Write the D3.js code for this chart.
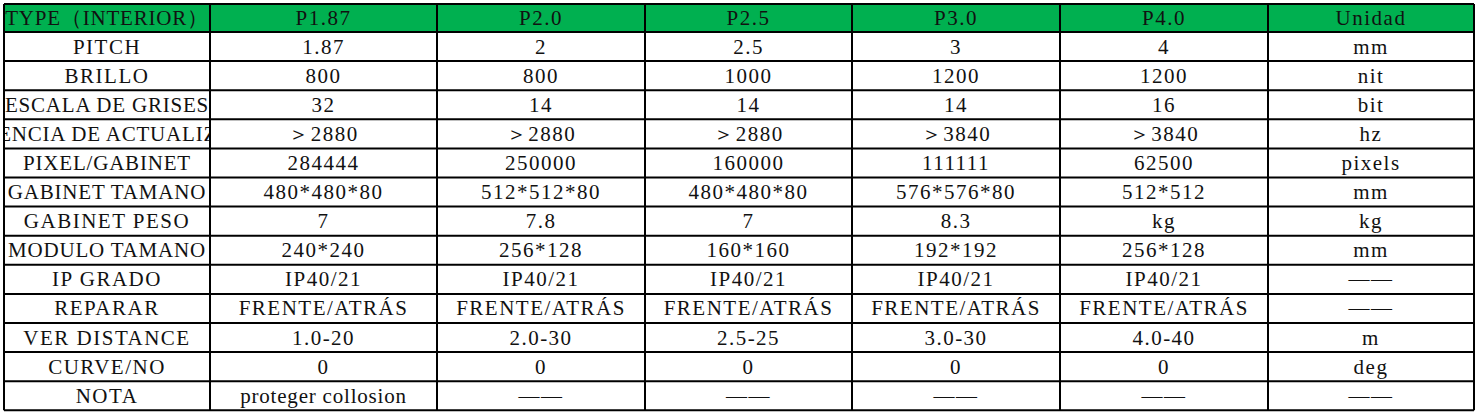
<!DOCTYPE html>
<html><head><meta charset="utf-8">
<script src="https://cdn.jsdelivr.net/npm/d3@7"></script>
<style>body{margin:0;background:#fff}</style>
</head><body>
<svg id="chart" width="1478" height="414"></svg>
<script>
const header = ["TYPE（INTERIOR）", "P1.87", "P2.0", "P2.5", "P3.0", "P4.0", "Unidad"];
const labels = ["PITCH", "BRILLO", "ESCALA DE GRISES", "FRECUENCIA DE ACTUALIZACIÓN", "PIXEL/GABINET",
  "GABINET TAMANO", "GABINET PESO", "MODULO TAMANO", "IP GRADO", "REPARAR", "VER DISTANCE", "CURVE/NO", "NOTA"];
const p187 = ["1.87", "800", "32", "＞2880", "284444", "480*480*80", "7", "240*240", "IP40/21", "FRENTE/ATRÁS", "1.0-20", "0", "proteger collosion"];
const p20 = ["2", "800", "14", "＞2880", "250000", "512*512*80", "7.8", "256*128", "IP40/21", "FRENTE/ATRÁS", "2.0-30", "0", "——"];
const p25 = ["2.5", "1000", "14", "＞2880", "160000", "480*480*80", "7", "160*160", "IP40/21", "FRENTE/ATRÁS", "2.5-25", "0", "——"];
const p30 = ["3", "1200", "14", "＞3840", "111111", "576*576*80", "8.3", "192*192", "IP40/21", "FRENTE/ATRÁS", "3.0-30", "0", "——"];
const p40 = ["4", "1200", "16", "＞3840", "62500", "512*512", "kg", "256*128", "IP40/21", "FRENTE/ATRÁS", "4.0-40", "0", "——"];
const units = ["mm", "nit", "bit", "hz", "pixels", "mm", "kg", "mm", "——", "——", "m", "deg", "——"];

const colWidths = [206, 227, 208, 207, 208, 208, 206];
const columns = [labels, p187, p20, p25, p30, p40, units];
const rows = [header].concat(labels.map((_, i) => columns.map(c => c[i])));

const svg = d3.select("#chart");
const leftX = 4, topY = 4, rowH = 29.1, headH = 28;
const edges = [0];
colWidths.forEach(w => edges.push(edges[edges.length - 1] + w));
const x = d3.scaleLinear().domain([0, edges[edges.length - 1]]).range([leftX, leftX + edges[edges.length - 1]]);
const y = d3.scaleLinear().domain([0, 1]).range([topY + headH, topY + headH + rowH]);
const rowTop = i => i == 0 ? topY : y(i - 1);
const rowBot = i => y(i);

svg.append("rect").attr("x", x(0)).attr("y", topY).attr("width", x(edges[7]) - x(0)).attr("height", headH).attr("fill", "#00b050");

const defs = svg.append("defs");
rows.forEach((row, r) => {
  row.forEach((txt, c) => {
    const id = "clip-" + r + "-" + c;
    defs.append("clipPath").attr("id", id).append("rect")
      .attr("x", x(edges[c]) + 1).attr("y", rowTop(r)).attr("width", x(edges[c + 1]) - x(edges[c]) - 2).attr("height", rowBot(r) - rowTop(r));
    svg.append("text")
      .attr("clip-path", "url(#" + id + ")")
      .attr("x", (x(edges[c]) + x(edges[c + 1])) / 2)
      .attr("y", (rowTop(r) + rowBot(r)) / 2 + 7)
      .attr("text-anchor", "middle")
      .attr("font-family", "'Liberation Serif', serif")
      .attr("font-size", 21)
      .attr("letter-spacing", txt.length > 12 ? 0.8 : 1.5)
      .attr("fill", "#111")
      .text(txt);
  });
});

for (let r = 0; r <= rows.length; r++) {
  const yy = r == 0 ? topY : rowBot(r - 1);
  svg.append("line").attr("x1", x(0)).attr("x2", x(edges[7])).attr("y1", yy).attr("y2", yy)
    .attr("stroke", "#000").attr("stroke-width", 2);
}
edges.forEach(e => {
  svg.append("line").attr("x1", x(e)).attr("x2", x(e)).attr("y1", topY).attr("y2", rowBot(rows.length - 1))
    .attr("stroke", "#000").attr("stroke-width", 2);
});
</script>
</body></html>
